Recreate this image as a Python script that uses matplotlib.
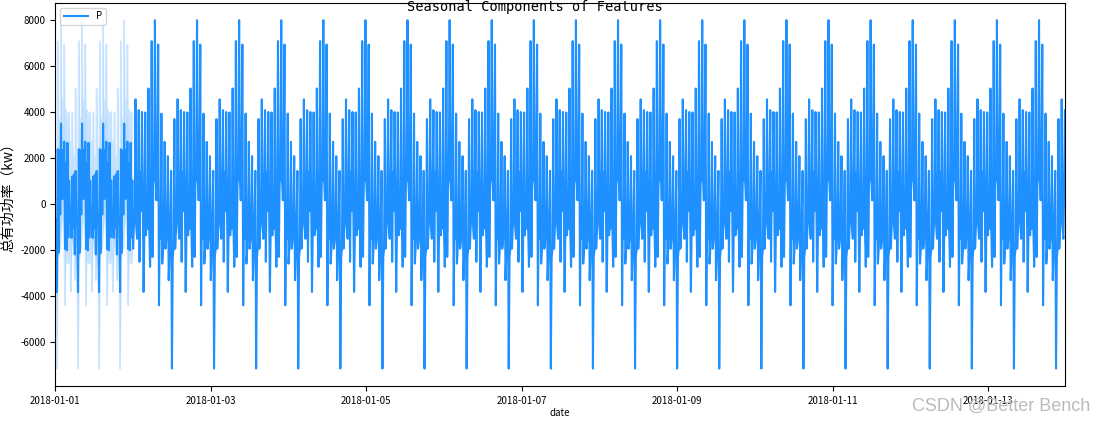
import numpy as np
import pandas as pd
import matplotlib.pyplot as plt

plt.rcParams['font.family'] = ['Noto Sans CJK SC', 'DejaVu Sans']
plt.rcParams['axes.unicode_minus'] = False

# one 13 h seasonal cycle of P at 15 min steps
# (value at :00, :15, :30, :45 of each hour of the cycle)
q00 = [8000, 6940, 3940, 2710, 2090, 1450, 3700, 4560, 4090, 4010, 3990, 5030, 7090]
q15 = [1040, -4390, -2580, -1930, -3300, -7140, -1930, -990, -2500, 30, -1350, -1060, -2290]
q30 = [170, -500, -1930, -1560, -2140, -2300, -990, -1500, 1400, -3810, 500, -2720, 970]
q45 = [1500, -1500, -800, -700, -600, -1930, -600, 500, -300, -1000, -1060, -500, 1040]

start = '2018-01-01 00:00'
n_points = 1248          # 13 days of 15 min data
peak_offset = 19         # first 8000 peak at 04:45
dup_points = 96          # first day has two readings per timestamp
dup_offsets = [7, 33]

pattern = np.array([q00, q15, q30, q45]).T.ravel()
cycle = len(pattern)

dates = pd.date_range(start, periods=n_points, freq='15min')
idx = np.arange(n_points)
P = pattern[(idx - peak_offset) % cycle].astype(float)

# first day: two readings at each timestamp -> mean line + band
d_idx = np.arange(dup_points)
copy_a = pattern[(d_idx - dup_offsets[0]) % cycle]
copy_b = pattern[(d_idx - dup_offsets[1]) % cycle]
P[:dup_points] = (copy_a + copy_b) / 2
low = np.minimum(copy_a, copy_b)
high = np.maximum(copy_a, copy_b)

df = pd.DataFrame({'date': dates, 'P': P})

fig = plt.figure(figsize=(11.07, 4.23), dpi=100)
ax = fig.add_axes([0.05, 0.0875, 0.912, 0.906])

color = '#1E90FF'
ax.fill_between(dates[:dup_points], low, high, color=color, alpha=0.15, lw=0)
ax.plot(dates[:dup_points], low, color=color, lw=1.2, alpha=0.22)
ax.plot(dates[:dup_points], high, color=color, lw=1.2, alpha=0.22)
ax.plot(df['date'], df['P'], color=color, lw=1.5, label='P')

ax.set_xlim(dates[0], dates[-1])
ax.set_xticks(pd.date_range('2018-01-01', '2018-01-13', freq='2D'))
ax.xaxis.set_major_formatter(plt.matplotlib.dates.DateFormatter('%Y-%m-%d'))
ax.tick_params(labelsize=7)
ax.set_xlabel('date', fontsize=7, labelpad=2)
ax.set_ylabel('总有功功率（kw）', fontsize=10)
ax.legend(loc='upper left', fontsize=7, handlelength=2.5)

fig.suptitle('Seasonal Components of Features', x=0.483, y=0.999, va='top',
             fontsize=9.8, family='DejaVu Sans Mono')
fig.text(0.985, 0.04, 'CSDN @Better Bench', ha='right', va='center',
         fontsize=13, color='#bbbbbb', family='Liberation Sans')

fig.savefig('out.png', dpi=100)
